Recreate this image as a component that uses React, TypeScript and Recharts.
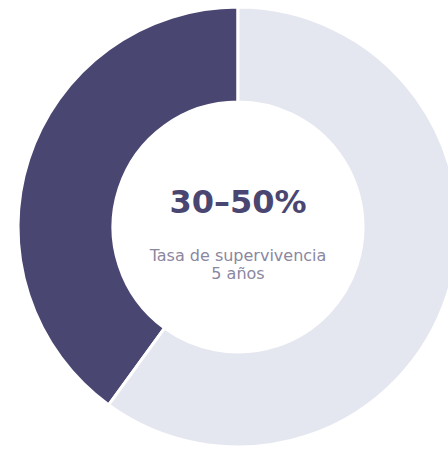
import { Cell, Pie, PieChart } from 'recharts';

const segments = ['Supervivencia', 'Resto'];
const shares = [40, 60];
const colors = ['#4a4672', '#e5e7f0'];

const headline = '30–50%';
const captionLines = ['Tasa de supervivencia', '5 años'];

const data = segments.map((name, i) => ({ name, value: shares[i] }));

export default function App() {
  return (
    <div style={{ position: 'absolute', left: 0, top: 0, width: 448, height: 462, background: '#fff' }}>
      <PieChart width={448} height={462} margin={{ top: 0, right: 0, bottom: 0, left: 0 }}>
        <Pie
          data={data}
          dataKey='value'
          nameKey='name'
          cx={238}
          cy={227}
          innerRadius={125}
          outerRadius={220}
          startAngle={90}
          endAngle={450}
          stroke='#ffffff'
          strokeWidth={3}
          isAnimationActive={false}
        >
          {data.map((d, i) => (
            <Cell key={d.name} fill={colors[i]} />
          ))}
        </Pie>
      </PieChart>
      <svg
        width={448}
        height={462}
        style={{ position: 'absolute', left: 0, top: 0, pointerEvents: 'none' }}
      >
        <text
          x={238}
          y={213}
          textAnchor='middle'
          fontFamily='DejaVu Sans'
          fontWeight='bold'
          fontSize={32}
          fill='#4a4672'
        >
          {headline}
        </text>
        {captionLines.map((line, i) => (
          <text
            key={line}
            x={238}
            y={261 + i * 18}
            textAnchor='middle'
            fontFamily='DejaVu Sans'
            fontSize={16}
            fill='#8a879f'
          >
            {line}
          </text>
        ))}
      </svg>
    </div>
  );
}
